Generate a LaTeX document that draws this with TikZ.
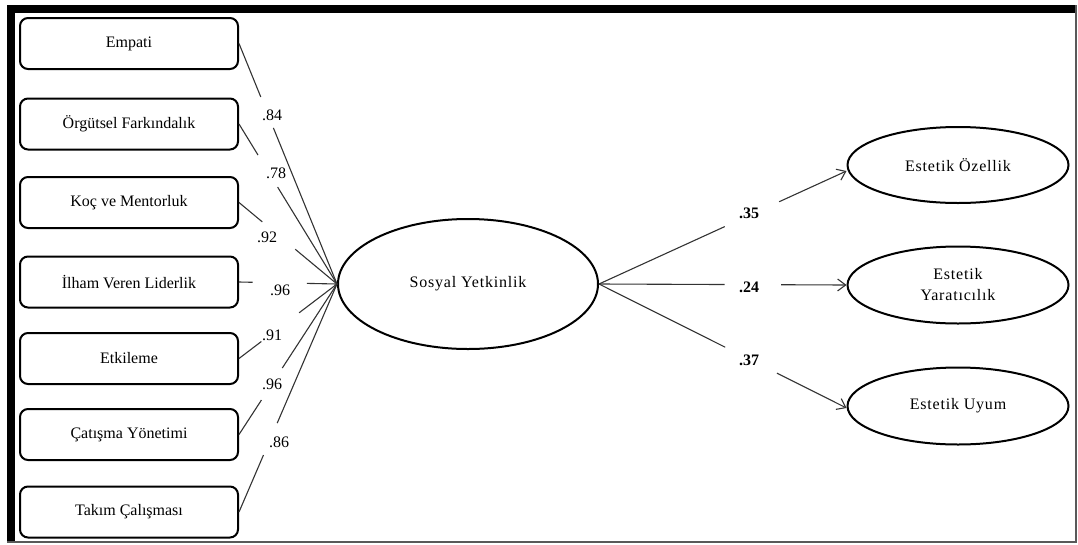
\documentclass[tikz,border=0pt]{standalone}
\usepackage{fontspec}
\setmainfont{Liberation Serif}
\usetikzlibrary{arrows.meta,shapes.geometric,calc}
\begin{document}
\begin{tikzpicture}[x=1pt,y=-1pt,
  ind/.style={draw=black,line width=2pt,rounded corners=8pt,minimum width=218pt,minimum height=51pt,inner sep=0pt,font=\fontsize{16}{19}\selectfont},
  lat/.style={draw=black,line width=2pt,ellipse,inner sep=0pt,align=center,font=\fontsize{16}{21}\selectfont\addfontfeature{LetterSpace=5}},
  conn/.style={draw=black!80,line width=1.1pt},
  arr/.style={conn,-{Straight Barb[length=8pt,width=12pt,line width=1.1pt]}},
  lab/.style={inner sep=0pt,font=\fontsize{16}{19}\selectfont},
  blab/.style={inner sep=0pt,font=\fontsize{16}{19}\selectfont\bfseries}]
\useasboundingbox (0,0) rectangle (1078,544);
% frame
\fill[black] (7,5) rectangle (1076,13);
\fill[black] (7,5) rectangle (15,543);
\draw[black!65,line width=2pt] (1076,5) -- (1076,542) -- (7,542);
% indicator boxes
\node[ind] (emp) at (129,43.5) {Empati};
\node[ind] (org) at (129,124) {Örgütsel Farkındalık};
\node[ind] (koc) at (129,202.5) {Koç ve Mentorluk};
\node[ind] (ilh) at (129,282) {İlham Veren Liderlik};
\node[ind] (etk) at (129,358.5) {Etkileme};
\node[ind] (cat) at (129,434.5) {Çatışma Yönetimi};
\node[ind] (tak) at (129,512) {Takım Çalışması};
% latent variables
\node[lat,minimum width=260pt,minimum height=130pt] (sy) at (468,284) {Sosyal Yetkinlik};
\node[lat,minimum width=221pt,minimum height=76pt] (oz) at (958,165) {Estetik Özellik};
\node[lat,minimum width=221pt,minimum height=77pt] (ya) at (958,285) {Estetik\\Yaratıcılık};
\node[lat,minimum width=221pt,minimum height=77pt] (uy) at (958,406) {Estetik Uyum};
% left connectors with gaps for labels
\foreach \a/\t/\u in {emp/0.222/0.351, org/0.194/0.394, koc/0.238/0.574, ilh/0.139/0.693, etk/0.228/0.614, cat/0.229/0.442, tak/0.25/0.39}{
  \draw[conn] (\a.east) -- ($(\a.east)!\t!(sy.west)$);
  \draw[conn] ($(\a.east)!\u!(sy.west)$) -- (sy.west);
}
\node[lab] (l1) at (272,115) {.84};
\node[lab] (l2) at (276,173) {.78};
\node[lab] (l3) at (267,237) {.92};
\node[lab] (l4) at (280,290) {.96};
\node[lab] (l5) at (272,335) {.91};
\node[lab] (l6) at (272,384) {.96};
\node[lab] (l7) at (279,442) {.86};
% right arrows
\coordinate (t1) at ([yshift=-6pt]oz.west);
\coordinate (t2) at (ya.west);
\coordinate (t3) at ([yshift=-2pt]uy.west);
\draw[conn] (sy.east) -- ($(sy.east)!0.508!(t1)$);
\draw[arr] ($(sy.east)!0.728!(t1)$) -- (t1);
\draw[conn] (sy.east) -- ($(sy.east)!0.508!(t2)$);
\draw[arr] ($(sy.east)!0.736!(t2)$) -- (t2);
\draw[conn] (sy.east) -- ($(sy.east)!0.51!(t3)$);
\draw[arr] ($(sy.east)!0.719!(t3)$) -- (t3);
\node[blab] (r1) at (749,213) {.35};
\node[blab] (r2) at (749,287) {.24};
\node[blab] (r3) at (749,360) {.37};
\end{tikzpicture}
\end{document}
